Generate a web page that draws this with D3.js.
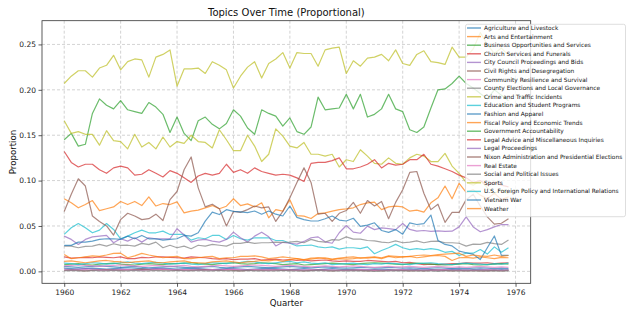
<!DOCTYPE html>
<html>
<head>
<meta charset="utf-8">
<script src="https://cdn.jsdelivr.net/npm/d3@7"></script>
<style>
  body { margin: 0; background: #fff; }
  svg { display: block; font-family: "DejaVu Sans", sans-serif; }
</style>
</head>
<body>
<svg id="chart" width="634" height="317"></svg>
<script>
// quarters 1960 Q1 .. 1975 Q4
const quarters = d3.range(1960, 1976, 0.25);
const xTicks = [1960, 1962, 1964, 1966, 1968, 1970, 1972, 1974, 1976];
const yTicks = [0, 0.05, 0.10, 0.15, 0.20, 0.25];

const topics = [
  "Agriculture and Livestock", "Arts and Entertainment", "Business Opportunities and Services",
  "Church Services and Funerals", "City Council Proceedings and Bids", "Civil Rights and Desegregation",
  "Community Resilience and Survival", "County Elections and Local Governance", "Crime and Traffic Incidents",
  "Education and Student Programs", "Fashion and Apparel", "Fiscal Policy and Economic Trends",
  "Government Accountability", "Legal Advice and Miscellaneous Inquiries", "Legal Proceedings",
  "Nixon Administration and Presidential Elections", "Real Estate", "Social and Political Issues",
  "Sports", "U.S. Foreign Policy and International Relations", "Vietnam War", "Weather"
];

const agriculture = [0.0035,0.003,0.0025,0.003,0.0035,0.003,0.0025,0.003, 0.0035,0.004,0.0035,0.003,0.0025,0.003,0.0035,0.003,
  0.0025,0.003,0.0035,0.003,0.0025,0.002,0.0025,0.003, 0.003,0.0025,0.002,0.0025,0.003,0.0035,0.003,0.0025,
  0.002,0.0025,0.003,0.0025,0.002,0.0025,0.003,0.0025, 0.002,0.0025,0.002,0.0015,0.002,0.0025,0.002,0.0015,
  0.002,0.0025,0.002,0.0015,0.002,0.0015,0.002,0.0025, 0.002,0.0015,0.002,0.0025,0.002,0.0015,0.002,0.0015];
const arts = [0.080,0.0755,0.070,0.0736,0.078,0.067,0.069,0.071, 0.077,0.0736,0.077,0.0725,0.082,0.072,0.0747,0.0736,
  0.0766,0.0645,0.0663,0.0674,0.070,0.0725,0.069,0.0718, 0.080,0.0725,0.0744,0.071,0.0755,0.059,0.068,0.0663,
  0.079,0.0615,0.0608,0.0582,0.0637,0.0645,0.0663,0.068, 0.0689,0.070,0.0736,0.0755,0.0762,0.068,0.071,0.0718,
  0.071,0.0663,0.0674,0.0652,0.0755,0.081,0.094,0.080, 0.097,0.087,0.090,0.084,0.080,0.086,0.079,0.082];
const business = [0.145,0.152,0.138,0.140,0.174,0.190,0.183,0.179, 0.188,0.178,0.176,0.174,0.186,0.181,0.173,0.153,
  0.170,0.152,0.144,0.166,0.170,0.162,0.157,0.163, 0.178,0.171,0.158,0.151,0.178,0.174,0.171,0.160,
  0.169,0.154,0.151,0.159,0.192,0.178,0.179,0.180, 0.195,0.179,0.195,0.170,0.173,0.179,0.195,0.179,
  0.176,0.156,0.153,0.159,0.180,0.200,0.201,0.207, 0.215,0.207,0.202,0.196,0.190,0.200,0.194,0.188];
const church = [0.016,0.0145,0.015,0.0155,0.015,0.016,0.0155,0.015, 0.016,0.014,0.014,0.0155,0.015,0.016,0.016,0.0155,
  0.015,0.0145,0.016,0.0155,0.015,0.014,0.0135,0.014, 0.013,0.0135,0.0135,0.014,0.0125,0.013,0.0135,0.0125,
  0.013,0.012,0.0125,0.0115,0.012,0.0125,0.0115,0.011, 0.0115,0.011,0.011,0.012,0.0115,0.011,0.0105,0.011,
  0.0095,0.010,0.0085,0.0075,0.008,0.0075,0.008,0.0085, 0.0085,0.0095,0.009,0.009,0.0095,0.0085,0.009,0.0095];
const cityCouncil = [0.0025,0.002,0.0025,0.003,0.0025,0.002,0.0015,0.002, 0.0025,0.002,0.0015,0.002,0.0025,0.003,0.0025,0.002,
  0.002,0.0015,0.002,0.0025,0.002,0.0015,0.002,0.0025, 0.002,0.0015,0.001,0.0015,0.002,0.0025,0.002,0.0015,
  0.0015,0.002,0.0015,0.001,0.0015,0.002,0.0015,0.001, 0.0015,0.001,0.0015,0.002,0.0015,0.001,0.0015,0.001,
  0.001,0.0015,0.001,0.0015,0.002,0.0015,0.001,0.0015, 0.001,0.0015,0.001,0.0015,0.001,0.0015,0.001,0.0015];
const civilRights = [0.001,0.0015,0.001,0.0005,0.001,0.0015,0.002,0.0015, 0.001,0.0015,0.002,0.0025,0.002,0.0015,0.002,0.0015,
  0.001,0.0015,0.001,0.0015,0.002,0.0015,0.001,0.0015, 0.001,0.0005,0.001,0.0015,0.001,0.001,0.0015,0.001,
  0.0015,0.001,0.0005,0.001,0.0015,0.001,0.0005,0.001, 0.001,0.0015,0.001,0.0005,0.001,0.0005,0.001,0.0015,
  0.001,0.0005,0.001,0.0005,0.001,0.0015,0.001,0.0005, 0.001,0.0005,0.001,0.0005,0.0005,0.001,0.0005,0.001];
const community = [0.0015,0.001,0.0015,0.002,0.0015,0.001,0.0015,0.001, 0.0015,0.002,0.0015,0.001,0.0015,0.002,0.0025,0.002,
  0.0015,0.002,0.0015,0.001,0.0015,0.002,0.0015,0.002, 0.0025,0.002,0.0015,0.002,0.0015,0.001,0.0015,0.002,
  0.0015,0.001,0.0015,0.002,0.0015,0.001,0.0015,0.001, 0.001,0.0015,0.002,0.0015,0.001,0.0015,0.001,0.0015,
  0.002,0.0015,0.001,0.0015,0.001,0.0015,0.002,0.0015, 0.001,0.0015,0.001,0.0015,0.002,0.0015,0.001,0.0015];
const county = [0.0005,0.001,0.0005,0.0005,0.001,0.0005,0.0005,0.001, 0.0005,0.0005,0.001,0.0005,0.0005,0.001,0.0005,0.0005,
  0.001,0.0005,0.0005,0.001,0.0005,0.0005,0.001,0.0005, 0.0005,0.0005,0.001,0.0005,0.0005,0.0005,0.0005,0.001,
  0.0005,0.0005,0.0005,0.0005,0.001,0.0005,0.0005,0.0005, 0.0005,0.0005,0.0005,0.0005,0.0,0.0005,0.0005,0.0005,
  0.0005,0.0005,0.0005,0.0005,0.0005,0.0,0.0005,0.0005, 0.0005,0.0005,0.0005,0.0005,0.0005,0.0005,0.0005,0.0005];
const crime = [0.166,0.152,0.154,0.151,0.151,0.139,0.155,0.144, 0.143,0.135,0.151,0.137,0.142,0.135,0.148,0.137,
  0.143,0.141,0.150,0.143,0.142,0.136,0.156,0.145, 0.133,0.133,0.150,0.138,0.121,0.129,0.157,0.149,
  0.138,0.136,0.142,0.129,0.129,0.127,0.129,0.115, 0.123,0.121,0.134,0.127,0.119,0.118,0.125,0.119,
  0.118,0.125,0.129,0.127,0.121,0.121,0.130,0.116, 0.108,0.098,0.095,0.100,0.092,0.086,0.090,0.085];
const education = [0.0407,0.048,0.0527,0.048,0.0425,0.0454,0.0527,0.0462, 0.0359,0.0388,0.0425,0.0454,0.0425,0.0425,0.0443,0.0407,
  0.0407,0.0407,0.0344,0.037,0.0359,0.0396,0.0396,0.0352, 0.0396,0.0359,0.0344,0.037,0.037,0.037,0.034,0.034,
  0.031,0.028,0.0285,0.029,0.027,0.026,0.027,0.0245, 0.026,0.026,0.025,0.027,0.0194,0.023,0.026,0.0297,
  0.026,0.024,0.025,0.024,0.025,0.024,0.021,0.022, 0.0176,0.020,0.020,0.024,0.019,0.027,0.021,0.026];
const fashion = [0.0055,0.005,0.0045,0.005,0.0055,0.006,0.0055,0.005, 0.0045,0.005,0.0055,0.0045,0.004,0.0045,0.005,0.0055,
  0.005,0.0045,0.004,0.0045,0.005,0.0055,0.0045,0.004, 0.0045,0.005,0.0055,0.005,0.0045,0.004,0.0045,0.005,
  0.0055,0.005,0.0045,0.004,0.0045,0.005,0.0045,0.004, 0.0035,0.004,0.0045,0.004,0.0035,0.004,0.0045,0.004,
  0.0035,0.004,0.0035,0.003,0.0035,0.004,0.0035,0.003, 0.0035,0.003,0.0035,0.004,0.0035,0.003,0.0035,0.003];
const fiscal = [0.0187,0.014,0.015,0.016,0.017,0.0165,0.018,0.0198, 0.020,0.015,0.017,0.0198,0.018,0.0165,0.015,0.016,
  0.0165,0.014,0.014,0.015,0.016,0.0165,0.014,0.015, 0.015,0.0165,0.0165,0.017,0.016,0.014,0.015,0.016,
  0.015,0.014,0.013,0.0145,0.015,0.014,0.013,0.014, 0.0135,0.014,0.015,0.0145,0.0155,0.014,0.0165,0.015,
  0.016,0.0165,0.015,0.016,0.017,0.0175,0.0165,0.012, 0.015,0.0155,0.0145,0.016,0.015,0.014,0.0155,0.015];
const government = [0.0075,0.008,0.0085,0.0075,0.007,0.008,0.0085,0.009, 0.008,0.0075,0.007,0.008,0.0085,0.008,0.0075,0.0085,
  0.0085,0.009,0.0095,0.0085,0.008,0.0075,0.0085,0.009, 0.0095,0.0085,0.008,0.0085,0.0095,0.009,0.0085,0.0075,
  0.008,0.0085,0.007,0.0075,0.008,0.0085,0.009,0.0085, 0.008,0.0075,0.0085,0.009,0.0095,0.009,0.0085,0.008,
  0.0075,0.0085,0.009,0.0085,0.008,0.0075,0.007,0.0075, 0.008,0.0085,0.0075,0.007,0.0075,0.008,0.0085,0.008];
const legalAdvice = [0.132,0.120,0.115,0.118,0.118,0.112,0.108,0.114, 0.116,0.114,0.106,0.107,0.112,0.108,0.104,0.111,
  0.108,0.103,0.098,0.105,0.108,0.106,0.108,0.118, 0.109,0.112,0.108,0.114,0.110,0.108,0.106,0.107,
  0.106,0.103,0.099,0.119,0.120,0.120,0.122,0.125, 0.113,0.113,0.115,0.118,0.123,0.114,0.119,0.117,
  0.118,0.123,0.123,0.129,0.118,0.116,0.113,0.110, 0.106,0.103,0.098,0.100,0.095,0.098,0.095,0.093];
const legalProceedings = [0.0388,0.0352,0.0297,0.0352,0.038,0.0388,0.0396,0.0315, 0.0359,0.0333,0.037,0.0322,0.037,0.0359,0.0359,0.0359,
  0.047,0.040,0.0322,0.0344,0.0352,0.0333,0.0322,0.0352, 0.0432,0.037,0.0322,0.0388,0.0432,0.038,0.028,0.032,
  0.031,0.030,0.033,0.037,0.038,0.0325,0.031,0.0425, 0.0505,0.0432,0.042,0.0498,0.046,0.048,0.047,0.046,
  0.0527,0.0462,0.0443,0.045,0.044,0.0445,0.044,0.0443, 0.049,0.060,0.049,0.0436,0.046,0.049,0.0516,0.0516];
const nixon = [0.066,0.085,0.102,0.094,0.061,0.055,0.050,0.040, 0.057,0.064,0.061,0.057,0.058,0.063,0.056,0.079,
  0.088,0.112,0.126,0.092,0.071,0.074,0.069,0.050, 0.066,0.065,0.068,0.072,0.070,0.071,0.055,0.066,
  0.081,0.098,0.114,0.098,0.063,0.064,0.055,0.064, 0.067,0.076,0.064,0.078,0.072,0.077,0.058,0.076,
  0.090,0.109,0.110,0.086,0.068,0.074,0.054,0.065, 0.065,0.079,0.085,0.072,0.060,0.052,0.053,0.058];
const realEstate = [0.006,0.0065,0.007,0.0065,0.006,0.0055,0.006,0.0065, 0.007,0.0065,0.006,0.0055,0.006,0.0065,0.006,0.0055,
  0.006,0.0065,0.0055,0.005,0.0055,0.006,0.0065,0.006, 0.0055,0.006,0.0065,0.007,0.0065,0.006,0.0055,0.006,
  0.0065,0.006,0.0055,0.005,0.0055,0.006,0.0055,0.005, 0.0055,0.006,0.0055,0.005,0.0045,0.005,0.0055,0.005,
  0.005,0.0055,0.005,0.0045,0.005,0.0055,0.005,0.0045, 0.005,0.0045,0.005,0.0055,0.005,0.0045,0.005,0.0045];
const social = [0.0278,0.0278,0.026,0.0275,0.0278,0.0297,0.0278,0.0304, 0.0286,0.0288,0.0278,0.0308,0.0295,0.0322,0.026,0.0288,
  0.026,0.0278,0.0249,0.0288,0.0278,0.0297,0.0288,0.0278, 0.0308,0.0308,0.0322,0.0308,0.0315,0.0315,0.0322,0.032,
  0.0322,0.033,0.0315,0.0352,0.033,0.0322,0.035,0.0345, 0.038,0.0355,0.0355,0.034,0.0335,0.0322,0.0315,0.0335,
  0.0315,0.0322,0.0335,0.0315,0.033,0.0333,0.0315,0.0315, 0.031,0.0278,0.030,0.0297,0.032,0.0305,0.0297,0.0345];
const sports = [0.207,0.215,0.221,0.221,0.214,0.224,0.227,0.238, 0.222,0.231,0.234,0.233,0.214,0.236,0.239,0.244,
  0.204,0.223,0.223,0.224,0.218,0.231,0.227,0.222, 0.202,0.215,0.225,0.231,0.213,0.229,0.234,0.241,
  0.224,0.241,0.240,0.240,0.226,0.244,0.246,0.247, 0.218,0.232,0.226,0.235,0.236,0.239,0.232,0.244,
  0.229,0.227,0.239,0.243,0.231,0.230,0.228,0.247, 0.236,0.236,0.245,0.263,0.250,0.240,0.246,0.238];
const foreign = [0.009,0.0085,0.0075,0.0085,0.0095,0.009,0.008,0.0085, 0.0095,0.0105,0.009,0.0085,0.0095,0.010,0.009,0.008,
  0.0085,0.009,0.008,0.0075,0.0085,0.0095,0.009,0.0085, 0.0095,0.010,0.011,0.0105,0.009,0.0085,0.0095,0.0105,
  0.011,0.0095,0.0105,0.009,0.0085,0.0095,0.0075,0.008, 0.0085,0.009,0.008,0.0075,0.0085,0.008,0.009,0.0085,
  0.008,0.0075,0.0085,0.009,0.0095,0.0085,0.008,0.0075, 0.0085,0.009,0.0085,0.008,0.0075,0.0085,0.008,0.009];
const vietnam = [0.0286,0.0286,0.0322,0.0322,0.0333,0.0352,0.0359,0.0359, 0.0352,0.0388,0.0359,0.0396,0.0359,0.0359,0.0344,0.0352,
  0.0359,0.0396,0.0388,0.0425,0.0553,0.0652,0.0626,0.068, 0.066,0.0655,0.0648,0.0665,0.063,0.0665,0.063,0.061,
  0.072,0.0595,0.057,0.0555,0.0555,0.058,0.061,0.0565, 0.0555,0.0585,0.0495,0.051,0.0535,0.045,0.043,0.046,
  0.041,0.0535,0.0516,0.0525,0.062,0.034,0.0297,0.028, 0.0223,0.0205,0.0187,0.013,0.026,0.039,0.0176,0.0176];
const weather = [0.011,0.0115,0.0105,0.0095,0.0105,0.0115,0.012,0.011, 0.0105,0.0095,0.0105,0.011,0.0115,0.010,0.0095,0.0105,
  0.011,0.0115,0.010,0.0095,0.009,0.0105,0.011,0.0115, 0.0105,0.0095,0.0105,0.011,0.012,0.0115,0.0125,0.011,
  0.013,0.014,0.0125,0.0135,0.0145,0.015,0.0135,0.0145, 0.0155,0.016,0.0145,0.0155,0.016,0.015,0.017,0.0165,
  0.016,0.0165,0.0175,0.018,0.0175,0.0185,0.019,0.0195, 0.020,0.0165,0.018,0.017,0.0165,0.018,0.0165,0.0175];

const values = [agriculture, arts, business, church, cityCouncil, civilRights, community, county, crime,
  education, fashion, fiscal, government, legalAdvice, legalProceedings, nixon, realEstate, social,
  sports, foreign, vietnam, weather];

const colors = d3.schemeCategory10;

const svg = d3.select("#chart");
const plotLeft = 42, plotRight = 530.7, plotTop = 20.7, plotBottom = 283.3;

const xExt = d3.extent(quarters);
const xPad = (xExt[1] - xExt[0]) * 0.05;
const x = d3.scaleLinear().domain([xExt[0] - xPad, xExt[1] + xPad]).range([plotLeft, plotRight]);

const yMin = d3.min(values, s => d3.min(s));
const yMax = d3.max(values, s => d3.max(s));
const yPad = (yMax - yMin) * 0.05;
const y = d3.scaleLinear().domain([yMin - yPad, yMax + yPad]).range([plotBottom, plotTop]);

// grid
const grid = svg.append("g").attr("stroke", "#c4c4c4").attr("stroke-width", 0.75).attr("stroke-dasharray", "3,2");
grid.selectAll(".gx").data(xTicks.filter(t => x(t) < plotRight)).enter().append("line")
  .attr("x1", d => x(d)).attr("x2", d => x(d)).attr("y1", plotTop).attr("y2", plotBottom);
grid.selectAll(".gy").data(yTicks).enter().append("line")
  .attr("y1", d => y(d)).attr("y2", d => y(d)).attr("x1", plotLeft).attr("x2", plotRight);

// lines
const line = d3.line().x((d, i) => x(quarters[i])).y(d => y(d));
svg.append("g").selectAll("path").data(values).enter().append("path")
  .attr("d", d => line(d))
  .attr("fill", "none")
  .attr("stroke", (d, i) => colors[i % 10])
  .attr("stroke-opacity", 0.7)
  .attr("stroke-width", 1.2)
  .attr("stroke-linejoin", "round");

// axes
const xAxis = svg.append("g").attr("transform", `translate(0,${plotBottom})`)
  .call(d3.axisBottom(x).tickValues(xTicks).tickFormat(d3.format("d")).tickSize(3.5).tickPadding(2.5));
const yAxis = svg.append("g").attr("transform", `translate(${plotLeft},0)`)
  .call(d3.axisLeft(y).tickValues(yTicks).tickFormat(d3.format(".2f")).tickSize(3.5).tickPadding(2.5));
[xAxis, yAxis].forEach(a => {
  a.select(".domain").remove();
  a.selectAll("line").attr("stroke", "#333").attr("stroke-width", 0.8);
  a.selectAll("text").attr("font-size", 7.5).attr("fill", "#222").attr("font-family", "DejaVu Sans");
});

// frame
svg.append("rect").attr("x", plotLeft).attr("y", plotTop).attr("width", plotRight - plotLeft).attr("height", plotBottom - plotTop)
  .attr("fill", "none").attr("stroke", "#333").attr("stroke-width", 0.8);

// titles
svg.append("text").attr("x", (plotLeft + plotRight) / 2).attr("y", 16).attr("text-anchor", "middle")
  .attr("font-size", 10).attr("fill", "#111").text("Topics Over Time (Proportional)");
svg.append("text").attr("x", (plotLeft + plotRight) / 2).attr("y", 306).attr("text-anchor", "middle")
  .attr("font-size", 8.6).attr("fill", "#111").text("Quarter");
svg.append("text").attr("transform", `translate(15.5,${(plotTop + plotBottom) / 2}) rotate(-90)`)
  .attr("text-anchor", "middle").attr("font-size", 8.6).attr("fill", "#111").text("Proportion");

// legend
const legend = svg.append("g");
legend.append("rect").attr("x", 465.5).attr("y", 24.3).attr("width", 160).attr("height", 192.4).attr("rx", 2)
  .attr("fill", "#fff").attr("fill-opacity", 0.8).attr("stroke", "#d0d0d0").attr("stroke-width", 0.7);
const rows = legend.selectAll(".row").data(topics).enter().append("g")
  .attr("transform", (d, i) => `translate(0,${28 + i * 8.6})`);
rows.append("line").attr("x1", 467).attr("x2", 481)
  .attr("stroke", (d, i) => colors[i % 10]).attr("stroke-opacity", 0.7).attr("stroke-width", 1.4);
rows.append("text").attr("x", 484).attr("dy", "0.35em").attr("font-size", 5.85).attr("fill", "#111").text(d => d);
</script>
</body>
</html>
